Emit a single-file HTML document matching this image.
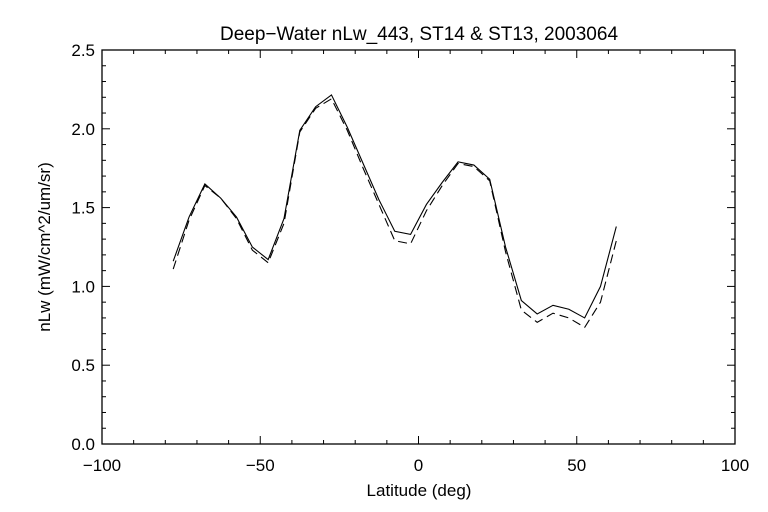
<!DOCTYPE html>
<html><head><meta charset="utf-8"><style>
body{margin:0;background:#fff}
svg{display:block}
text{font-family:"Liberation Sans",sans-serif;fill:#000}
</style></head><body>
<svg id="chart" width="768" height="512" viewBox="0 0 768 512" xmlns="http://www.w3.org/2000/svg">
<rect width="768" height="512" fill="#fff"/>
<text x="419" y="40" font-size="19" text-anchor="middle">Deep−Water nLw_443, ST14 &amp; ST13, 2003064</text>
<text x="419" y="496" font-size="17" text-anchor="middle">Latitude (deg)</text>
<text x="0" y="0" font-size="17" text-anchor="middle" transform="translate(50,247) rotate(-90)">nLw (mW/cm^2/um/sr)</text>
<g id="axes"></g>
<g id="series"></g>
</svg>
<script>
const lats = [-77.5,-72.5,-67.5,-62.5,-57.5,-52.5,-47.5,-42.5,-37.5,-32.5,-27.5,-22.5,-17.5,-12.5,-7.5,-2.5,2.5,7.5,12.5,17.5,22.5,27.5,32.5,37.5,42.5,47.5,52.5,57.5,62.5];
const st14 = [1.16,1.44,1.65,1.56,1.44,1.25,1.17,1.43,1.99,2.14,2.215,2.01,1.78,1.55,1.35,1.33,1.52,1.66,1.79,1.77,1.68,1.25,0.91,0.825,0.88,0.855,0.80,1.00,1.38];
const st13 = [1.11,1.42,1.64,1.56,1.43,1.23,1.15,1.40,1.98,2.13,2.19,1.99,1.75,1.52,1.29,1.27,1.48,1.64,1.78,1.76,1.67,1.22,0.85,0.772,0.83,0.80,0.74,0.90,1.29];
const xTicks = [-100,-50,0,50,100];
const yTicks = [0.0,0.5,1.0,1.5,2.0,2.5];

const L=102,R=735,T=50,B=444;
const X=v=>L+(v+100)/200*(R-L);
const Y=v=>B-v/2.5*(B-T);
const NS='http://www.w3.org/2000/svg';
const axes=document.getElementById('axes');
function mk(tag,attrs,parent){const e=document.createElementNS(NS,tag);for(const k in attrs)e.setAttribute(k,attrs[k]);parent.appendChild(e);return e;}

const frame=mk('rect',{x:L,y:T,width:R-L,height:B-T,fill:'none',stroke:'#000','stroke-width':1.3},axes);



for(let v=-100;v<=100;v+=10){
  const maj=v%50===0, len=maj?8:4, x=X(v);
  const t1=mk('line',{x1:x,x2:x,y1:B,y2:B-len,stroke:'#000'},axes);
  
  
  const t2=mk('line',{x1:x,x2:x,y1:T,y2:T+len,stroke:'#000'},axes);
  
  
}
xTicks.forEach(v=>{
  const t=mk('text',{x:X(v),y:471,'font-size':17,'text-anchor':'middle'},axes);
  t.textContent=(v<0?'−':'')+Math.abs(v);
  
  
});
for(let i=0;i<=25;i++){
  const v=i/10, maj=i%5===0, len=maj?8:4, y=Y(v);
  const t1=mk('line',{x1:L,x2:L+len,y1:y,y2:y,stroke:'#000'},axes);
  
  
  const t2=mk('line',{x1:R,x2:R-len,y1:y,y2:y,stroke:'#000'},axes);
  
  
}
yTicks.forEach(v=>{
  const t=mk('text',{x:95,y:Y(v)+6,'font-size':17,'text-anchor':'end'},axes);
  t.textContent=v.toFixed(1);
  
  
});

const series=document.getElementById('series');
function line(vals,dash,name){
  const p=mk('polyline',{points:lats.map((x,i)=>X(x)+','+Y(vals[i])).join(' '),fill:'none',stroke:'#000','stroke-width':1.1},series);
  if(dash)p.setAttribute('stroke-dasharray',dash);
  
  
}
line(st13,'9,5','st13-dashed-line');
line(st14,null,'st14-solid-line');
</script>
</body></html>
